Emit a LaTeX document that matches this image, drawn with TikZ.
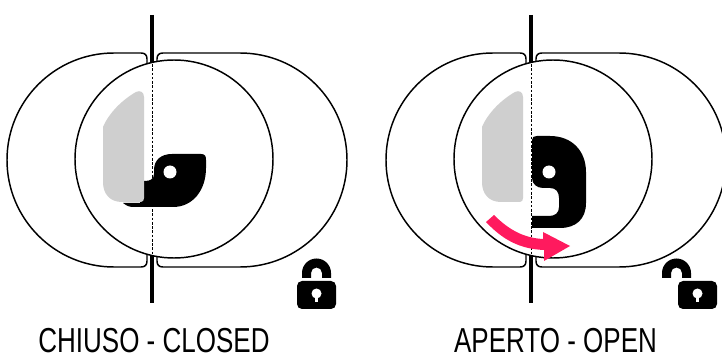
\documentclass[tikz,border=0pt]{standalone}
\usepackage{fontspec}
\setmainfont[FakeStretch=0.75]{Liberation Sans}
\definecolor{lockgray}{HTML}{CFCFCF}
\definecolor{lockpink}{HTML}{FF1A5E}
\tikzset{
  plate/.style={draw=black,line width=1.1pt,fill=white},
  bar/.style={draw=black,line width=3pt},
  ring/.style={draw=black,line width=1.1pt,fill=white},
  axis/.style={draw=black,line width=0.7pt,dash pattern=on 2pt off 1.2pt},
  latch/.style={fill=black},
  ghost/.style={fill=lockgray},
  caption/.style={inner sep=0pt,anchor=base,font=\fontsize{26}{26}\selectfont},
  lockbase/.pic={
    \draw[bar] (152,15) -- (152,303);
    \path[plate] (147,70) -- (147,59) .. controls (147,55) and (145,53) .. (141,53) -- (114,53)
      arc[start angle=90,end angle=270,x radius=107,y radius=-107] -- (141,267)
      .. controls (145,267) and (147,265) .. (147,261) -- (147,250);
    \path[plate] (157,70) -- (157,59) .. controls (157,55) and (159,53) .. (163,53) -- (240,53)
      arc[start angle=90,end angle=-90,x radius=107,y radius=-107] -- (163,267)
      .. controls (159,267) and (157,265) .. (157,261) -- (157,250);
    \path[ring] (174,159) circle[radius=99];
    \draw[axis] (152,64) -- (152,256);
  },
  graylatch/.pic={
    \fill[ghost] (103,127) .. controls (109,113) and (122,100) .. (136,92)
      .. controls (140,90) and (144,92) .. (144,97) -- (144,198)
      .. controls (144,200) and (143,202) .. (141,202) -- (122,202)
      .. controls (110,202) and (103,194) .. (103,182) -- cycle;
  },
  body/.pic={
    \fill[latch] (#1,281) ++(5,0) -- ++(29,0) arc[start angle=90,end angle=0,radius=5,y radius=-5]
      -- ++(0,18) arc[start angle=0,end angle=-90,radius=5,y radius=-5] -- ++(-29,0)
      arc[start angle=-90,end angle=-180,radius=5,y radius=-5] -- ++(0,-18)
      arc[start angle=180,end angle=90,radius=5,y radius=-5] -- cycle;
    \fill[white] (#1+19.5,293.5) circle[radius=5];
    \fill[white] (#1+17.8,295) rectangle (#1+21.2,302.5);
  },
  shackle/.pic={
    \fill[latch] (#1,278) -- (#1,273) arc[start angle=180,end angle=0,radius=14.5,y radius=-14.5]
      -- (#1+29,278) -- (#1+20,278) -- (#1+20,273)
      arc[start angle=0,end angle=180,radius=5.5,y radius=-5.5] -- (#1+9,278) -- cycle;
  }
}
\begin{document}
\begin{tikzpicture}[x=0.75pt,y=-0.75pt]
\useasboundingbox (0,0) rectangle (722,356);
% closed
\pic at (0,0) {lockbase};
\fill[latch] (123,203) .. controls (127,206) and (129,207) .. (134,207) -- (173,207)
  .. controls (193,207) and (206,190) .. (206,168) -- (206,160)
  .. controls (206,156) and (205,154) .. (201,154) -- (172,154)
  .. controls (161,154) and (154,160) .. (154,170) -- (154,174)
  .. controls (154,179) and (150,181) .. (145,181) -- (140,181) -- (140,203) -- cycle;
\fill[white] (170,172) circle[radius=6.5];
\pic at (0,0) {graylatch};
% open
\pic at (379,0) {lockbase};
\pic at (379,0) {graylatch};
\fill[latch] (532,140) .. controls (532,137) and (534,136) .. (537,136) -- (550,136)
  .. controls (572,136) and (586,151) .. (586,172) -- (586,203)
  .. controls (586,219) and (576,228) .. (560,228) -- (532,228) -- (532,216) -- (549,216)
  .. controls (555,216) and (559,213) .. (559,207) -- (559,198)
  .. controls (559,192) and (556,188) .. (550,188) -- (543,188)
  .. controls (537,188) and (532,184) .. (532,178) -- cycle;
\fill[white] (549,172) circle[radius=6.5];
\fill[lockpink] (494,215) .. controls (510,231) and (525,238) .. (543,239) -- (543,232)
  -- (570,246) -- (544,261) -- (544,250) .. controls (520,249) and (503,240) .. (486,222) -- cycle;
% padlocks
\pic at (0,0) {shackle=302};
\pic at (0,0) {body=297};
\pic at (0,0) {shackle=662};
\pic at (0,0) {body=678};
\node[caption] (closedlabel) at (154,352.5) {CHIUSO - CLOSED};
\node[caption] (openlabel) at (555.5,352.5) {APERTO - OPEN};
\end{tikzpicture}
\end{document}
